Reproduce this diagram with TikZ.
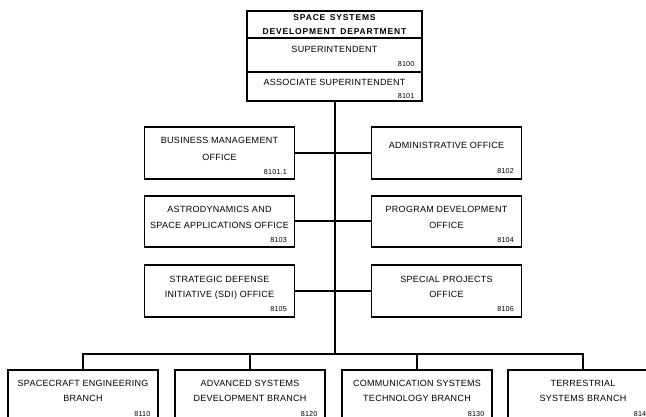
\documentclass[tikz,border=0pt]{standalone}
\usepackage{fontspec}
\newfontfamily\chartfont[LetterSpace=3,WordSpace=1.6]{Liberation Sans}
\newfontfamily\titlefont[LetterSpace=10,WordSpace=1.4]{Liberation Sans}
\newfontfamily\numfont[LetterSpace=3]{Liberation Sans}
\newcommand\tline[4]{\node[lbl] (#1) at ([yshift=-#3pt]#2.north) {#4};}
\newcommand\tnum[4]{\node[num] (#1) at ([xshift=-8pt,yshift=-#3pt]#2.north east) {#4};}
\begin{document}
\begin{tikzpicture}[x=1pt,y=-1pt,
  box/.style={draw=black,line width=1.3pt,fill=white,inner sep=0pt,minimum width=150pt},
  lbl/.style={anchor=base,inner sep=0pt,font=\chartfont\fontsize{9}{10}\selectfont,text=black},
  ttl/.style={anchor=base,inner sep=0pt,font=\titlefont\bfseries\fontsize{8.5}{10}\selectfont,text=black},
  num/.style={anchor=base east,inner sep=0pt,font=\numfont\fontsize{7.2}{8}\selectfont,text=black},
  conn/.style={draw=black,line width=2pt}]
\clip (0,0) rectangle (646,417);
\fill[white] (0,0) rectangle (646,417);
% top block
\node[box,minimum width=175pt,minimum height=27pt] (t1) at (334.5,24.5) {};
\node[box,minimum width=175pt,minimum height=34pt] (t2) at (334.5,55) {};
\node[box,minimum width=175pt,minimum height=29pt] (t3) at (334.5,86.5) {};
\node[ttl] (t1a) at ([yshift=-10.5pt]t1.north) {SPACE SYSTEMS};
\node[ttl] (t1b) at ([yshift=-24.5pt]t1.north) {DEVELOPMENT DEPARTMENT};
\tline{t2a}{t2}{15.5}{SUPERINTENDENT}
\tnum{t2n}{t2}{29}{8100}
\tline{t3a}{t3}{14.5}{ASSOCIATE SUPERINTENDENT}
\tnum{t3n}{t3}{27}{8101}
% spine and bus
\coordinate (bus) at (334.5,354);
\draw[conn] (t3.south) -- (bus);
% office rows
\node[box,minimum height=52pt] (bm) at (219.5,153) {};
\node[box,minimum height=52pt] (ao) at (446.5,153) {};
\node[box,minimum height=51pt] (as) at (219.5,221.5) {};
\node[box,minimum height=51pt] (pd) at (446.5,221.5) {};
\node[box,minimum height=52pt] (sd) at (219.5,291) {};
\node[box,minimum height=52pt] (sp) at (446.5,291) {};
\draw[conn] (bm.east) -- (ao.west);
\draw[conn] (as.east) -- (pd.west);
\draw[conn] (sd.east) -- (sp.west);
\tline{bm1}{bm}{17.5}{BUSINESS MANAGEMENT}
\tline{bm2}{bm}{34.5}{OFFICE}
\tnum{bmn}{bm}{48}{8101.1}
\tline{ao1}{ao}{22.5}{ADMINISTRATIVE OFFICE}
\tnum{aon}{ao}{47}{8102}
\tline{as1}{as}{17.5}{ASTRODYNAMICS AND}
\tline{as2}{as}{33.5}{SPACE APPLICATIONS OFFICE}
\tnum{asn}{as}{47.5}{8103}
\tline{pd1}{pd}{17.5}{PROGRAM DEVELOPMENT}
\tline{pd2}{pd}{33.5}{OFFICE}
\tnum{pdn}{pd}{47.5}{8104}
\tline{sd1}{sd}{18.5}{STRATEGIC DEFENSE}
\tline{sd2}{sd}{33.5}{INITIATIVE (SDI) OFFICE}
\tnum{sdn}{sd}{47.5}{8105}
\tline{sp1}{sp}{18.5}{SPECIAL PROJECTS}
\tline{sp2}{sp}{33.5}{OFFICE}
\tnum{spn}{sp}{47.5}{8106}
% branches
\node[box,minimum height=60pt] (b1) at (83,400) {};
\node[box,minimum height=60pt] (b2) at (250,400) {};
\node[box,minimum height=60pt] (b3) at (417,400) {};
\node[box,minimum height=60pt] (b4) at (583,400) {};
\draw[conn] (b1.north) |- (bus) -| (b4.north);
\draw[conn] (b2.north) -- (b2.north |- bus);
\draw[conn] (b3.north) -- (b3.north |- bus);
\tline{b1a}{b1}{17.5}{SPACECRAFT ENGINEERING}
\tline{b1b}{b1}{32.5}{BRANCH}
\tnum{b1n}{b1}{47.5}{8110}
\tline{b2a}{b2}{17.5}{ADVANCED SYSTEMS}
\tline{b2b}{b2}{32.5}{DEVELOPMENT BRANCH}
\tnum{b2n}{b2}{47.5}{8120}
\tline{b3a}{b3}{17.5}{COMMUNICATION SYSTEMS}
\tline{b3b}{b3}{32.5}{TECHNOLOGY BRANCH}
\tnum{b3n}{b3}{47.5}{8130}
\tline{b4a}{b4}{17.5}{TERRESTRIAL}
\tline{b4b}{b4}{32.5}{SYSTEMS BRANCH}
\tnum{b4n}{b4}{47.5}{8140}
\end{tikzpicture}
\end{document}
